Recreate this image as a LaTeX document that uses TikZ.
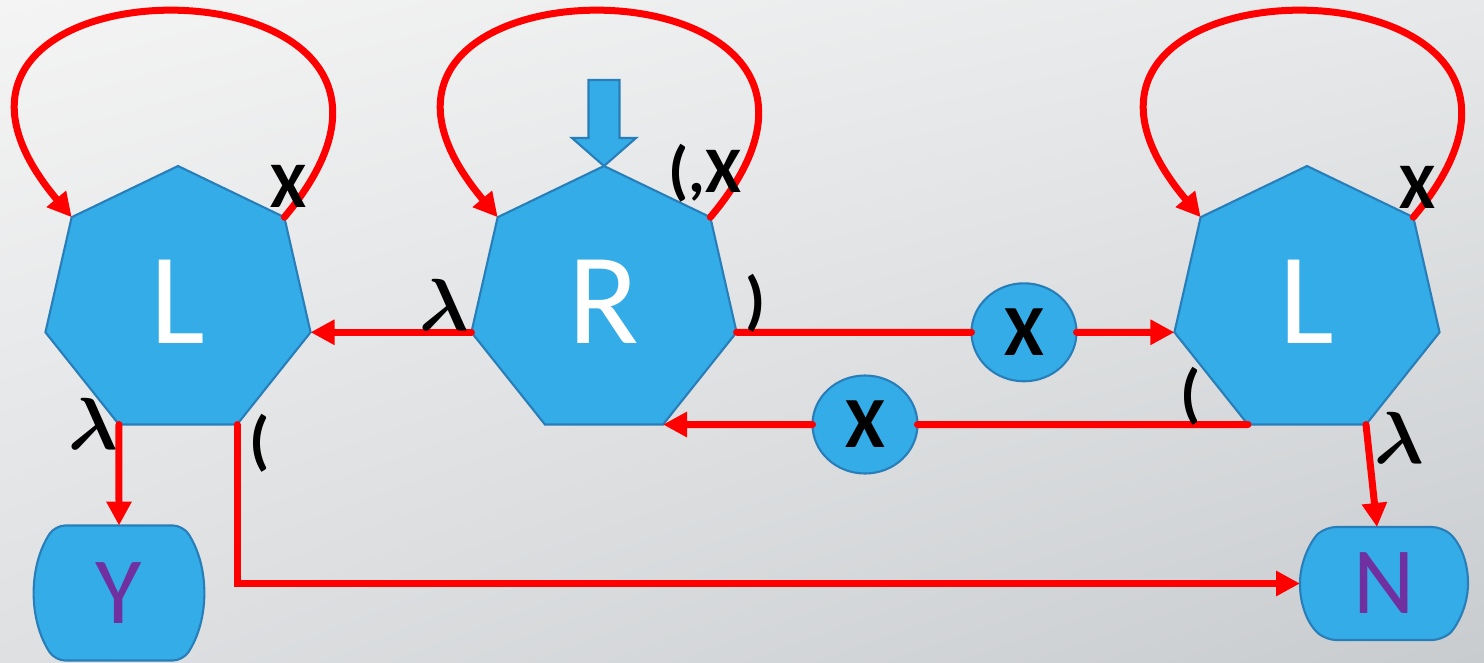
\RequirePackage{fix-cm}
\documentclass[tikz,border=0pt]{standalone}
\usepackage{amsmath}
\usepackage{fontspec}
\setmainfont{Carlito}
\usetikzlibrary{arrows.meta,shapes.geometric,shadings}
\definecolor{stateblue}{RGB}{51,172,232}
\definecolor{stateedge}{RGB}{40,126,184}
\definecolor{haltpurple}{RGB}{112,48,160}
\definecolor{bgul}{RGB}{244,244,244}
\definecolor{bgur}{RGB}{230,232,233}
\definecolor{bgll}{RGB}{222,224,226}
\definecolor{bglr}{RGB}{201,204,207}
\tikzset{
  state/.style={regular polygon, regular polygon sides=7, minimum size=27.2mm, inner sep=0pt, outer sep=0pt,
    fill=stateblue, draw=stateedge, line width=0.6pt, text=white, font=\fontsize{37}{40}\selectfont},
  endbox/.style={rectangle, minimum width=16.8mm, inner sep=0pt, outer sep=0pt,
    text=haltpurple, font=\fontsize{27}{30}\selectfont},
  symbox/.style={ellipse, minimum width=10.5mm, minimum height=9.8mm, inner sep=0pt, outer sep=0pt,
    fill=stateblue, draw=stateedge, line width=0.6pt, font=\bfseries\fontsize{20.5}{22}\selectfont},
  move/.style={red, line width=0.7mm, line cap=round, -{Triangle[length=2.4mm,width=2.4mm]}},
  lbl/.style={inner sep=0pt, font=\bfseries\fontsize{18.5}{20}\selectfont}
}
% centre, half straight width, half height, bulge
\def\drumshape[#1](#2,#3)(#4:#5:#6){%
  \pgfmathsetmacro\drumr{(#5*#5+#6*#6)/(2*#6)}%
  \pgfmathsetmacro\druma{asin(#5/\drumr)}%
  \draw[#1] (#2,#3+#5) -- (#2+#4,#3+#5) arc[start angle=\druma, end angle=-\druma, radius=\drumr]
    -- (#2-#4,#3-#5) arc[start angle=180+\druma, end angle=180-\druma, radius=\drumr] -- cycle;}

\begin{document}
\begin{tikzpicture}[x=0.1mm,y=0.1mm]
		%%%%% START %%%%%
		\shade[upper left=bgul, upper right=bgur, lower left=bgll, lower right=bglr] (0,0) rectangle (1484,662);
		\useasboundingbox (0,0) rectangle (1484,662);
		
		\node[state] (L1) at (178,360) {L};
		\node[state] (R) at (604,360) {R};
		\node[state] (L2) at (1307,360) {L};
		
		\drumshape[fill=stateblue, draw=stateedge, line width=0.6pt, rounded corners=1mm](119,69)(64:67.5:20);
		\node[endbox, minimum height=13.5mm] (Y) at (119,69) {Y};
		\drumshape[fill=stateblue, draw=stateedge, line width=0.6pt, rounded corners=1mm](1384,78.5)(58:56.5:26);
		\node[endbox, minimum height=11.3mm] (N) at (1384,78.5) {N};
		
		\node[symbox] (X1) at (1024,329.7) {X};
		\node[symbox] (X2) at (865,237.5) {X};
		
		\draw[fill=stateblue, draw=stateedge, line width=0.6pt] (R.corner 1) -- ++(32,28) -- ++(-16.5,0) -- ++(0,58)
			-- ++(-31,0) -- ++(0,-58) -- ++(-16.5,0) -- cycle;
		
		\draw[move] (L1.corner 7) to[out=50,in=130,looseness=4.3] (L1.corner 2);
		\draw[move] (R.corner 7) to[out=50,in=130,looseness=4.3] (R.corner 2);
		\draw[move] (L2.corner 7) to[out=50,in=130,looseness=4.3] (L2.corner 2);
		
		\draw[move] (R.corner 3) -- (L1.corner 6);
		\draw[move,-] (R.corner 6) -- (X1);
		\draw[move] (X1) -- (L2.corner 3);
		\draw[move,-] (L2.corner 4) -- (X2);
		\draw[move] (X2) -- (R.corner 5);
		\draw[move] (L1.corner 4) -- (Y.north);
		\draw[move] (L2.corner 5) -- ([xshift=-0.7mm]N.north);
		\draw[move] (L1.corner 5) |- (N.west);
		
		\node[lbl] (l1x) at (288,476) {X};
		\node[lbl, anchor=base] (rx) at (705,470) {(,X};
		\node[lbl] (rclose) at (756,359) {)};
		\node[lbl, font=\fontsize{21}{22}\selectfont] (rlam) at (444,357) {$\boldsymbol{\lambda}$};
		\node[lbl] (l2x) at (1417,475) {X};
		\node[lbl] (l2open) at (1191,266) {(};
		\node[lbl, font=\fontsize{21}{22}\selectfont] (l1lam) at (93,238) {$\boldsymbol{\lambda}$};
		\node[lbl] (l1open) at (260,219) {(};
		\node[lbl, font=\fontsize{21}{22}\selectfont] (l2lam) at (1399,224) {$\boldsymbol{\lambda}$};
		%%%%% END %%%%%
\end{tikzpicture}
\end{document}
